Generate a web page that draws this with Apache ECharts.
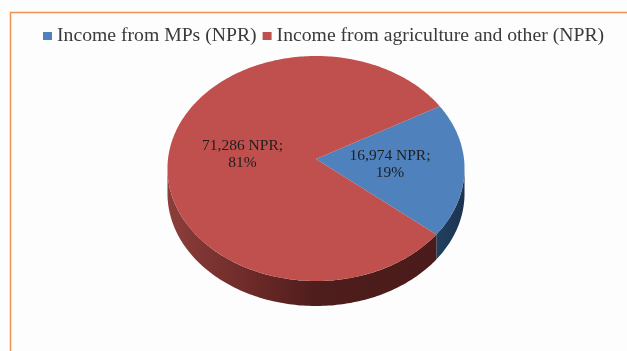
<!DOCTYPE html>
<html>
<head>
<meta charset="utf-8">
<script src="https://cdn.jsdelivr.net/npm/echarts@6/dist/echarts.min.js"></script>
<style>
html,body{margin:0;padding:0;background:#fdfdfd;}
#c{width:627px;height:351px;}
</style>
</head>
<body>
<div id="c"></div>
<script>
var categories = ['Income from MPs (NPR)', 'Income from agriculture and other (NPR)'];
var values = [16974, 71286];
var labelTexts = ['16,974 NPR;', '71,286 NPR;'];
var colors = ['#4F81BD', '#C0504D'];

var total = values.reduce(function (a, b) { return a + b; }, 0);
var START = -29.5;            // screen angle (deg, clockwise) of first slice start
var CX = 316, CY = 159, RX = 148, RY = 111.7, P = 0.0844, T = 25;

function proj(deg, r, dy) {
  var a = deg * Math.PI / 180;
  var u = r * Math.cos(a), v = r * Math.sin(a);
  var d = 1 - P * v;
  return [CX + RX * u / d, CY + RY * v / d + (dy || 0)];
}
function arc(a0, a1, r, dy) {
  var pts = [], n = Math.max(2, Math.ceil(Math.abs(a1 - a0)));
  for (var i = 0; i <= n; i++) pts.push(proj(a0 + (a1 - a0) * i / n, r, dy));
  return pts;
}
function sliceAngles(idx, val) {
  var before = 0;
  for (var i = 0; i < idx; i++) before += values[i];
  var a0 = START + before / total * 360;
  return [a0, a0 + val / total * 360];
}
var sideGrad = [
  new echarts.graphic.LinearGradient(0, 0, 1, 0, [
    {offset: 0, color: '#22405f'}, {offset: 1, color: '#1a3350'}]),
  {type: 'linear', x: 166, y: 0, x2: 466, y2: 0, global: true, colorStops: [
    {offset: 0, color: '#8e3e3b'}, {offset: 0.3, color: '#6a2927'},
    {offset: 0.5, color: '#4e1d1c'}, {offset: 1, color: '#4a1b1b'}]}
];
var vis0 = Math.asin(P) * 180 / Math.PI, vis1 = 180 - vis0;

function sideRender(idx) {
  return function (params, api) {
    var ang = sliceAngles(idx, api.value(0));
    var children = [];
    for (var k = -1; k <= 1; k++) {
      var b0 = Math.max(ang[0], vis0 + 360 * k), b1 = Math.min(ang[1], vis1 + 360 * k);
      if (b1 > b0) {
        var pts = arc(b0, b1, 1, 0).concat(arc(b1, b0, 1, T));
        children.push({type: 'polygon', shape: {points: pts},
          style: {fill: sideGrad[idx], stroke: null}});
      }
    }
    return {type: 'group', children: children};
  };
}
function topRender(idx) {
  return function (params, api) {
    var v = api.value(0);
    var ang = sliceAngles(idx, v);
    var pts = [proj(0, 0, 0)].concat(arc(ang[0], ang[1], 1, 0));
    var mid = (ang[0] + ang[1]) / 2;
    var lp = proj(mid, 0.5, 0);
    return {type: 'group', children: [
      {type: 'polygon', shape: {points: pts}, style: {fill: colors[idx], stroke: null}},
      {type: 'text', z2: 10, style: {
        text: labelTexts[idx] + '\n' + Math.round(v / total * 100) + '%',
        x: lp[0], y: lp[1], align: 'center', verticalAlign: 'middle',
        font: '15.5px "Liberation Serif"', fill: '#1e1e1e', lineHeight: 17}}
    ]};
  };
}

var series = [];
categories.forEach(function (name, i) {
  series.push({type: 'custom', name: name, z: 1, coordinateSystem: 'none',
    itemStyle: {color: colors[i]}, data: [values[i]], renderItem: sideRender(i), silent: true});
});
categories.forEach(function (name, i) {
  series.push({type: 'custom', name: name, z: 2, coordinateSystem: 'none',
    itemStyle: {color: colors[i]}, data: [values[i]], renderItem: topRender(i), silent: true});
});

var chart = echarts.init(document.getElementById('c'));
chart.setOption({
  animation: false,
  backgroundColor: '#fdfdfd',
  graphic: [{type: 'rect', shape: {x: 10.5, y: 12.5, width: 700, height: 400},
    style: {fill: null, stroke: '#EE9350', lineWidth: 1.5}, silent: true}],
  legend: {
    data: categories, left: 38, top: 21, icon: 'rect', itemWidth: 9, itemHeight: 8,
    itemGap: 6, selectedMode: false,
    textStyle: {fontFamily: 'Liberation Serif', fontSize: 19.7, color: '#3a3a3a'}
  },
  series: series
});
</script>
</body>
</html>
